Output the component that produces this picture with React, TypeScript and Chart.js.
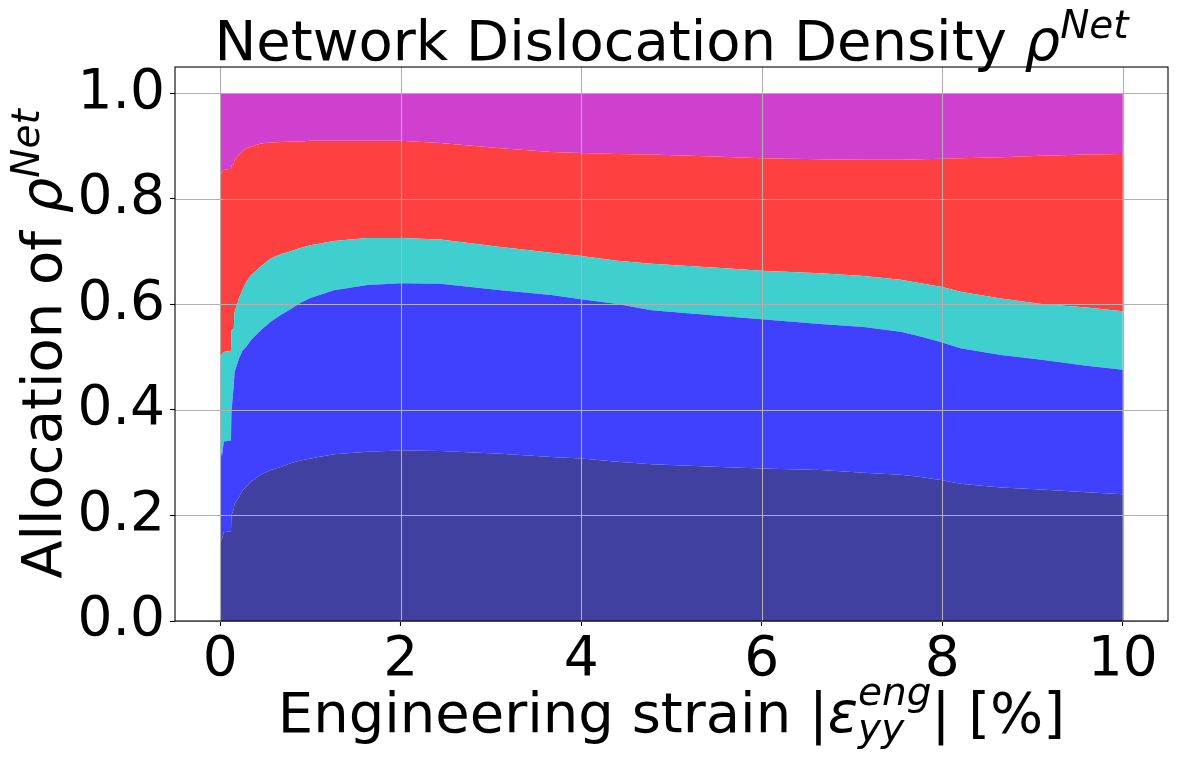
import React, { useEffect, useRef } from 'react';
import { Chart, registerables } from 'chart.js';

Chart.register(...registerables);

// engineering strain |eps_yy| in %
const strain = [
  0, 0.02, 0.04, 0.12, 0.125, 0.15, 0.16, 0.21, 0.25, 0.29, 0.34, 0.45, 0.56, 0.67, 0.78, 0.89,
  1.0, 1.26, 1.63, 2.0, 2.44, 3.11, 3.67, 4.0, 4.4, 4.78, 5.55, 6.0, 6.65, 7.13, 7.54, 7.76,
  8.0, 8.2, 8.65, 9.1, 9.6, 10,
];

// cumulative allocation (top edge of each band)
const navyTop = [
  0.15, 0.155, 0.168, 0.17, 0.2, 0.212, 0.222, 0.235, 0.248, 0.255, 0.264, 0.277, 0.286, 0.292, 0.299, 0.304,
  0.308, 0.316, 0.321, 0.323, 0.322, 0.317, 0.311, 0.308, 0.302, 0.297, 0.292, 0.289, 0.286, 0.281, 0.277, 0.273,
  0.267, 0.26, 0.253, 0.249, 0.244, 0.24,
];
const blueTop = [
  0.33, 0.312, 0.34, 0.342, 0.396, 0.444, 0.472, 0.498, 0.513, 0.52, 0.532, 0.551, 0.567, 0.58, 0.591, 0.603,
  0.612, 0.627, 0.637, 0.64, 0.639, 0.627, 0.618, 0.61, 0.601, 0.589, 0.578, 0.572, 0.563, 0.557, 0.548, 0.539,
  0.528, 0.517, 0.504, 0.495, 0.484, 0.476,
];
const cyanTop = [
  0.5, 0.505, 0.51, 0.512, 0.551, 0.553, 0.585, 0.612, 0.628, 0.643, 0.655, 0.672, 0.687, 0.695, 0.701, 0.707,
  0.712, 0.72, 0.726, 0.726, 0.723, 0.709, 0.698, 0.692, 0.683, 0.677, 0.669, 0.664, 0.659, 0.654, 0.647, 0.64,
  0.633, 0.624, 0.611, 0.601, 0.594, 0.587,
];
const redTop = [
  0.84, 0.852, 0.855, 0.857, 0.863, 0.866, 0.873, 0.884, 0.891, 0.896, 0.899, 0.905, 0.907, 0.908, 0.909, 0.909,
  0.91, 0.91, 0.91, 0.91, 0.906, 0.896, 0.889, 0.887, 0.885, 0.884, 0.88, 0.877, 0.875, 0.874, 0.874, 0.875,
  0.876, 0.877, 0.879, 0.882, 0.884, 0.885,
];

const xTicks = [0, 2, 4, 6, 8, 10];
const yTicks = [0, 0.2, 0.4, 0.6, 0.8, 1.0];

const FONT = '"DejaVu Sans", sans-serif';
const FS = 55;
const TITLE_FS = 56;

interface Piece {
  t: string;
  it?: boolean;
  s?: number; // relative size
  dy?: number; // baseline shift in px
  sameX?: boolean; // start at same x as the previous piece
}

const setFont = (ctx: CanvasRenderingContext2D, p: Piece, base: number) => {
  ctx.font = `${p.it ? 'italic ' : ''}${Math.round(base * (p.s ?? 1))}px ${FONT}`;
};

const layout = (ctx: CanvasRenderingContext2D, pieces: Piece[], base: number) => {
  let x = 0;
  let prevStart = 0;
  let prevEnd = 0;
  const out: { p: Piece; x: number }[] = [];
  pieces.forEach((p) => {
    setFont(ctx, p, base);
    const w = ctx.measureText(p.t).width;
    if (p.sameX) {
      out.push({ p, x: prevStart });
      x = Math.max(prevEnd, prevStart + w);
      prevEnd = x;
    } else {
      out.push({ p, x });
      prevStart = x;
      x += w;
      prevEnd = x;
    }
  });
  return { out, width: x };
};

const drawMath = (ctx: CanvasRenderingContext2D, pieces: Piece[], cx: number, by: number, base: number) => {
  const { out, width } = layout(ctx, pieces, base);
  const x0 = cx - width / 2;
  ctx.fillStyle = '#000';
  ctx.textBaseline = 'alphabetic';
  ctx.textAlign = 'left';
  out.forEach(({ p, x }) => {
    setFont(ctx, p, base);
    ctx.fillText(p.t, x0 + x, by + (p.dy ?? 0));
  });
};

const titlePieces: Piece[] = [
  { t: 'Network Dislocation Density ' },
  { t: 'ρ', it: true },
  { t: 'Net', it: true, s: 0.7, dy: -22 },
];
const yTitlePieces: Piece[] = [
  { t: 'Allocation of ' },
  { t: 'ρ', it: true },
  { t: 'Net', it: true, s: 0.7, dy: -22 },
];
const xTitlePieces: Piece[] = [
  { t: 'Engineering strain |' },
  { t: 'ε', it: true },
  { t: 'eng', it: true, s: 0.7, dy: -27 },
  { t: 'yy', it: true, s: 0.7, dy: 9, sameX: true },
  { t: '| [%]' },
];

// grid above the filled bands, like matplotlib's default
const gridPlugin = {
  id: 'gridOnTop',
  afterDatasetsDraw(chart: Chart) {
    const { ctx, chartArea, scales } = chart;
    ctx.save();
    ctx.strokeStyle = '#b0b0b0';
    ctx.lineWidth = 1.1;
    ctx.beginPath();
    xTicks.forEach((v) => {
      const px = Math.round(scales.x.getPixelForValue(v)) + 0.5;
      ctx.moveTo(px, chartArea.top);
      ctx.lineTo(px, chartArea.bottom);
    });
    yTicks.forEach((v) => {
      const py = Math.round(scales.y.getPixelForValue(v)) + 0.5;
      ctx.moveTo(chartArea.left, py);
      ctx.lineTo(chartArea.right, py);
    });
    ctx.stroke();
    ctx.restore();
  },
};

const textPlugin = {
  id: 'mathText',
  afterDraw(chart: Chart) {
    const { ctx, chartArea } = chart;
    const cx = (chartArea.left + chartArea.right) / 2;
    const cy = (chartArea.top + chartArea.bottom) / 2;
    ctx.save();
    // frame
    ctx.strokeStyle = '#000';
    ctx.lineWidth = 1.1;
    ctx.strokeRect(chartArea.left, chartArea.top, chartArea.right - chartArea.left, chartArea.bottom - chartArea.top);
    drawMath(ctx, titlePieces, cx, 60, TITLE_FS);
    drawMath(ctx, xTitlePieces, cx, 732, TITLE_FS);
    ctx.translate(61, cy);
    ctx.rotate(-Math.PI / 2);
    drawMath(ctx, yTitlePieces, 0, 0, TITLE_FS);
    ctx.restore();
  },
};

const band = (vals: number[]) => strain.map((x, i) => ({ x, y: vals[i] }));

const AllocationChart: React.FC = () => {
  const canvasRef = useRef<HTMLCanvasElement>(null);
  const chartRef = useRef<Chart | null>(null);

  useEffect(() => {
    document.body.style.margin = '0';
    if (!canvasRef.current) return;
    if (chartRef.current) chartRef.current.destroy();
    const ctx = canvasRef.current.getContext('2d');
    if (!ctx) return;

    const common = {
      pointRadius: 0,
      borderWidth: 0,
      borderColor: 'rgba(0,0,0,0)',
      tension: 0,
    };

    const gridOpts = {
      drawOnChartArea: false,
      tickColor: '#000',
      tickLength: 5,
      tickWidth: 1.1,
    };

    chartRef.current = new Chart(ctx, {
      type: 'line',
      data: {
        datasets: [
          { ...common, label: 'navy', data: band(navyTop), backgroundColor: 'rgb(64,64,160)', fill: 'origin' },
          { ...common, label: 'blue', data: band(blueTop), backgroundColor: 'rgb(64,64,255)', fill: '-1' },
          { ...common, label: 'c', data: band(cyanTop), backgroundColor: 'rgb(64,207,207)', fill: '-1' },
          { ...common, label: 'red', data: band(redTop), backgroundColor: 'rgb(255,64,64)', fill: '-1' },
          { ...common, label: 'm', data: band(redTop), backgroundColor: 'rgb(207,64,207)', fill: { value: 1 } },
        ],
      },
      options: {
        responsive: false,
        animation: false,
        events: [],
        layout: { padding: { top: 67, right: 10, left: 0, bottom: 0 } },
        plugins: {
          legend: { display: false },
          tooltip: { enabled: false },
          title: { display: false },
        },
        scales: {
          x: {
            type: 'linear',
            min: -0.5,
            max: 10.5,
            afterBuildTicks: (scale: any) => {
              scale.ticks = xTicks.map((v) => ({ value: v }));
            },
            afterFit: (scale: any) => {
              scale.height = 144;
            },
            ticks: {
              color: '#000',
              font: { family: FONT, size: FS },
              padding: 2,
              maxRotation: 0,
              callback: (v: any) => String(v),
            },
            grid: gridOpts,
            border: { display: false },
          },
          y: {
            type: 'linear',
            min: 0,
            max: 1.05,
            afterBuildTicks: (scale: any) => {
              scale.ticks = yTicks.map((v) => ({ value: v }));
            },
            afterFit: (scale: any) => {
              scale.width = 175;
            },
            ticks: {
              color: '#000',
              font: { family: FONT, size: FS },
              padding: 5,
              callback: (v: any) => Number(v).toFixed(1),
            },
            grid: gridOpts,
            border: { display: false },
          },
        },
      },
      plugins: [gridPlugin, textPlugin],
    });

    return () => {
      if (chartRef.current) {
        chartRef.current.destroy();
        chartRef.current = null;
      }
    };
  }, []);

  return (
    <div style={{ width: '1178px', height: '765px', background: '#fff' }}>
      <canvas ref={canvasRef} width={1178} height={765} style={{ width: '1178px', height: '765px' }} />
    </div>
  );
};

export default function App() {
  return <AllocationChart />;
}
